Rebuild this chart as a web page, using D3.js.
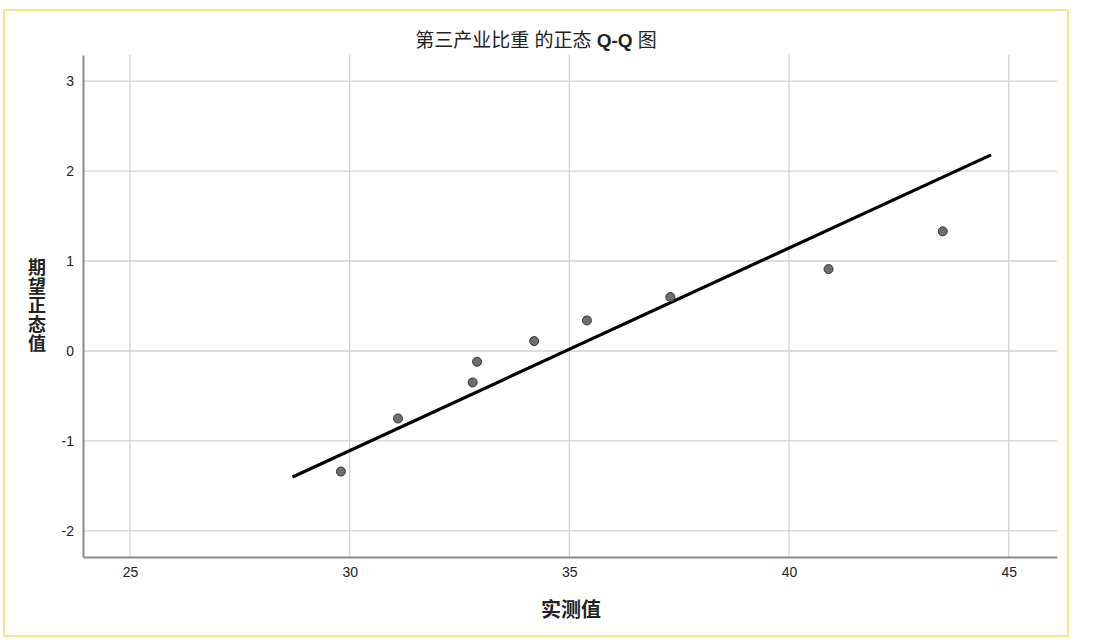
<!DOCTYPE html>
<html>
<head>
<meta charset="utf-8">
<script src="https://cdn.jsdelivr.net/npm/d3@7"></script>
<style>
  body { margin: 0; background: #fff; }
  text { font-family: Arial, "Liberation Sans", "Noto Sans CJK SC", sans-serif; fill: #222; }
</style>
</head>
<body>
<script>
// chart values
var observed = [29.8, 31.1, 32.8, 32.9, 34.2, 35.4, 37.3, 40.9, 43.5];
var expected = [-1.34, -0.75, -0.35, -0.12, 0.11, 0.34, 0.6, 0.91, 1.33];
// reference line end points (x, y)
var lineX = [28.7, 44.6];
var lineY = [-1.4, 2.18];
var xTicks = [25, 30, 35, 40, 45];
var yTicks = [-2, -1, 0, 1, 2, 3];

var svgWidth = 1106;
var svgHeight = 643;

var margin = { top: 55, right: 50, bottom: 86, left: 83 };
var width = 1057 - margin.left;
var height = 557 - margin.top;

var svg = d3.select("body")
  .append("svg")
  .attr("width", svgWidth)
  .attr("height", svgHeight);

// yellow frame
svg.append("rect")
  .attr("x", 4).attr("y", 10)
  .attr("width", 1064).attr("height", 626)
  .attr("fill", "none")
  .attr("stroke", "#fbe48e")
  .attr("stroke-width", 2);

var chartGroup = svg.append("g")
  .attr("transform", `translate(${margin.left}, ${margin.top})`);

var x = d3.scaleLinear()
  .domain([23.93, 46.1])
  .range([0, width]);

var y = d3.scaleLinear()
  .domain([-2.29, 3.29])
  .range([height, 0]);

// grid
chartGroup.append("g").selectAll("line")
  .data(xTicks)
  .enter()
  .append("line")
  .attr("x1", d => x(d)).attr("x2", d => x(d))
  .attr("y1", 0).attr("y2", height)
  .attr("stroke", "#d2d2d2")
  .attr("stroke-width", 1.3);

chartGroup.append("g").selectAll("line")
  .data(yTicks)
  .enter()
  .append("line")
  .attr("x1", 0).attr("x2", width)
  .attr("y1", d => y(d)).attr("y2", d => y(d))
  .attr("stroke", "#d2d2d2")
  .attr("stroke-width", 1.3);

// axes
var fmt = d => String(d);
var bottomAxis = d3.axisBottom(x).tickValues(xTicks).tickFormat(fmt).tickSize(0).tickPadding(10);
var leftAxis = d3.axisLeft(y).tickValues(yTicks).tickFormat(fmt).tickSize(0).tickPadding(9);

var gx = chartGroup.append("g")
  .attr("transform", `translate(0,${height})`)
  .call(bottomAxis);
gx.select(".domain").attr("stroke", "#8a8a8a").attr("stroke-width", 2);
gx.selectAll("text").style("font-size", "14px").attr("fill", "#222");

var gy = chartGroup.append("g")
  .call(leftAxis);
gy.select(".domain").attr("stroke", "#8a8a8a").attr("stroke-width", 2);
gy.selectAll("text").style("font-size", "14px").attr("fill", "#222");

// reference line
var line1 = d3.line()
  .x(d => x(d[0]))
  .y(d => y(d[1]));

chartGroup.append("path")
  .datum(d3.zip(lineX, lineY))
  .attr("d", line1)
  .attr("fill", "none")
  .attr("stroke", "#000")
  .attr("stroke-width", 3.2);

// points
chartGroup.append("g").selectAll("circle")
  .data(d3.zip(observed, expected))
  .enter()
  .append("circle")
  .attr("r", 4.5)
  .attr("fill", "#6e6e6e")
  .attr("stroke", "#333")
  .attr("stroke-width", 1)
  .attr("cx", d => x(d[0]))
  .attr("cy", d => y(d[1]));

// title
var title = svg.append("text")
  .attr("x", 536)
  .attr("y", 47)
  .style("text-anchor", "middle")
  .style("font-size", "19px");
title.append("tspan").text("第三产业比重 的正态 ");
title.append("tspan").style("font-weight", "bold").text("Q-Q");
title.append("tspan").text(" 图");

// x axis title
svg.append("text")
  .attr("x", 571)
  .attr("y", 617)
  .style("text-anchor", "middle")
  .style("font-size", "20px")
  .style("font-weight", "bold")
  .style("font-family", "'Noto Sans CJK SC', sans-serif")
  .text("实测值");

// y axis title, written top to bottom
svg.append("text")
  .attr("x", 37)
  .attr("y", 306)
  .style("writing-mode", "vertical-rl")
  .style("text-orientation", "upright")
  .style("text-anchor", "middle")
  .style("letter-spacing", "1px")
  .style("font-size", "18px")
  .style("font-weight", "bold")
  .style("font-family", "'Noto Sans CJK SC', sans-serif")
  .text("期望正态值");
</script>
</body>
</html>
